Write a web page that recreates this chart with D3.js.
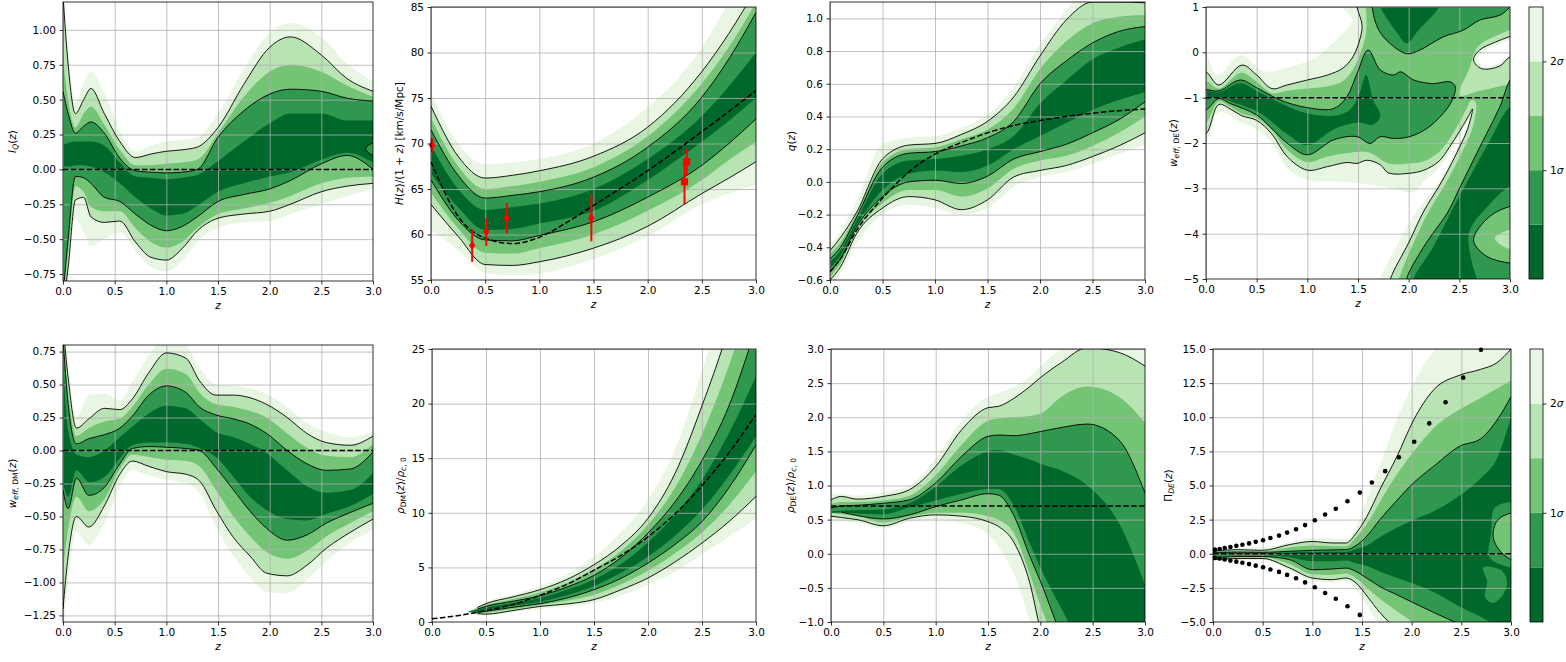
<!DOCTYPE html>
<html>
<head>
<meta charset="utf-8">
<script src="https://cdn.jsdelivr.net/npm/d3@7"></script>
<style>
  body { margin: 0; background: #fff; }
  text { font-family: "DejaVu Sans", sans-serif; font-size: 10.5px; fill: #000; }
</style>
</head>
<body>
<svg id="fig" width="1566" height="662"></svg>
<script>
const svg = d3.select('#fig');
// lightest (outer) to darkest (inner) confidence levels
const greens = ['#e8f6e3', '#b8e3b2', '#74c476', '#2f974e', '#00682a'];
const zTicks = [0, 0.5, 1, 1.5, 2, 2.5, 3];

// ---------- I_Q(z)
const iqZ = [0, 0.05, 0.12, 0.2, 0.27, 0.4, 0.55, 0.7, 0.85, 1.0, 1.15, 1.3, 1.5, 1.75, 2.0, 2.2, 2.5, 2.75, 3.0];
const iqHi = [
  [1.3, 0.85, 0.48, 0.62, 0.70, 0.55, 0.28, 0.13, 0.17, 0.20, 0.21, 0.23, 0.40, 0.72, 0.98, 1.05, 0.95, 0.76, 0.63],
  [1.25, 0.75, 0.40, 0.50, 0.58, 0.40, 0.20, 0.085, 0.11, 0.13, 0.14, 0.16, 0.30, 0.61, 0.875, 0.95, 0.82, 0.65, 0.56],
  [0.8, 0.5, 0.30, 0.40, 0.45, 0.32, 0.14, 0.03, 0.03, 0.04, 0.05, 0.07, 0.26, 0.52, 0.70, 0.75, 0.70, 0.60, 0.52],
  [0.56, 0.40, 0.26, 0.31, 0.34, 0.26, 0.08, -0.01, -0.02, -0.025, -0.02, 0.0, 0.23, 0.42, 0.54, 0.575, 0.56, 0.51, 0.49],
  [0.18, 0.19, 0.20, 0.20, 0.20, 0.17, 0.05, -0.05, -0.06, -0.07, -0.06, -0.04, 0.06, 0.20, 0.33, 0.40, 0.40, 0.35, 0.35]
];
const iqLo = [
  [-1.1, -0.8, -0.35, -0.45, -0.55, -0.50, -0.45, -0.58, -0.70, -0.73, -0.66, -0.52, -0.42, -0.38, -0.37, -0.32, -0.25, -0.19, -0.14],
  [-1.0, -0.7, -0.22, -0.20, -0.34, -0.38, -0.37, -0.52, -0.63, -0.65, -0.57, -0.44, -0.35, -0.32, -0.30, -0.25, -0.16, -0.12, -0.10],
  [-0.95, -0.6, -0.12, -0.16, -0.27, -0.30, -0.30, -0.42, -0.52, -0.56, -0.52, -0.42, -0.32, -0.28, -0.24, -0.19, -0.10, -0.06, -0.05],
  [-0.9, -0.5, -0.05, -0.06, -0.10, -0.20, -0.23, -0.32, -0.40, -0.44, -0.41, -0.34, -0.23, -0.18, -0.14, -0.08, 0.04, 0.10, 0.0],
  [0.02, 0.02, 0.03, 0.03, 0.02, -0.02, -0.10, -0.20, -0.28, -0.33, -0.32, -0.26, -0.16, -0.10, -0.05, -0.02, 0.07, 0.12, 0.05]
];
const iqRefZ = [0, 3];
const iqRefV = [0, 0];
const iqTicks = [-0.75, -0.5, -0.25, 0, 0.25, 0.5, 0.75, 1.0];
const iqIsland = [[3.1, 0.1], [3.0, 0.1], [2.93, 0.15], [3.0, 0.19], [3.1, 0.19]];

// ---------- H(z)/(1+z)
const hzZ = [0, 0.25, 0.5, 0.75, 1.0, 1.5, 2.0, 2.5, 2.75, 3.0];
const hzHi = [
  [75.5, 70.0, 67.7, 67.9, 68.3, 70.0, 74.0, 80.5, 85.5, 90],
  [74.1, 68.6, 66.2, 66.5, 67.0, 68.6, 71.8, 77.9, 82.1, 87],
  [72.8, 67.5, 65.0, 65.3, 65.8, 67.4, 70.8, 76.6, 80.6, 85.5],
  [71.5, 66.5, 64.0, 64.3, 64.7, 66.3, 69.6, 75.1, 79.3, 84.4],
  [69.8, 65.0, 62.7, 63.0, 63.4, 65.0, 68.3, 73.0, 76.3, 80.0]
];
const hzLo = [
  [60.5, 58.3, 55.8, 55.5, 55.7, 57.3, 59.8, 63.3, 64.5, 65.5],
  [63.3, 59.8, 56.7, 56.6, 57.0, 58.5, 60.9, 64.5, 66.2, 68.0],
  [64.6, 60.7, 58.0, 57.9, 58.5, 60.0, 62.6, 66.0, 68.2, 70.2],
  [66.0, 61.6, 59.4, 59.3, 59.9, 61.4, 64.1, 67.6, 70.0, 72.7],
  [66.7, 63.0, 60.5, 60.6, 61.2, 62.6, 66.0, 70.2, 72.5, 75.0]
];
const hzRefZ = [0, 0.25, 0.5, 0.75, 1.0, 1.25, 1.5, 2.0, 2.5, 3.0];
const hzRefV = [68.0, 62.0, 59.6, 59.0, 59.7, 61.3, 63.2, 67.0, 71.3, 75.8];
const hzTicks = [55, 60, 65, 70, 75, 80, 85];
const hzDiaZ = [0.01, 0.38, 0.51, 0.70, 1.48];
const hzDiaV = [69.8, 58.8, 60.3, 61.8, 61.8];
const hzDiaErr = [0.8, 1.8, 1.55, 1.65, 2.55];
const hzSqZ = [2.34, 2.36];
const hzSqV = [65.8, 68.0];
const hzSqErr = [2.5, 1.5];

// ---------- q(z)
const qZ = [0, 0.1, 0.25, 0.5, 0.75, 1.0, 1.25, 1.5, 1.75, 2.0, 2.25, 2.5, 2.75, 3.0];
const qHi = [
  [-0.38, -0.30, -0.12, 0.23, 0.27, 0.28, 0.33, 0.41, 0.58, 0.84, 1.05, 1.2, 1.2, 1.2],
  [-0.42, -0.34, -0.19, 0.14, 0.225, 0.235, 0.29, 0.37, 0.52, 0.77, 0.99, 1.1, 1.1, 1.095],
  [-0.44, -0.37, -0.20, 0.12, 0.20, 0.21, 0.26, 0.32, 0.45, 0.69, 0.86, 0.97, 1.01, 1.02],
  [-0.47, -0.40, -0.22, 0.09, 0.175, 0.185, 0.22, 0.27, 0.37, 0.60, 0.74, 0.85, 0.92, 0.95],
  [-0.49, -0.42, -0.24, 0.05, 0.13, 0.14, 0.16, 0.20, 0.28, 0.48, 0.62, 0.75, 0.82, 0.87]
];
const qLo = [
  [-0.65, -0.56, -0.38, -0.20, -0.14, -0.16, -0.20, -0.16, -0.03, 0.03, 0.06, 0.11, 0.17, 0.23],
  [-0.60, -0.52, -0.32, -0.16, -0.09, -0.11, -0.17, -0.11, 0.03, 0.07, 0.10, 0.155, 0.22, 0.30],
  [-0.58, -0.50, -0.30, -0.13, -0.05, -0.05, -0.09, -0.04, 0.08, 0.13, 0.16, 0.22, 0.30, 0.40],
  [-0.55, -0.47, -0.28, -0.09, 0.0, 0.01, -0.01, 0.035, 0.14, 0.185, 0.23, 0.30, 0.38, 0.49],
  [-0.53, -0.45, -0.27, -0.05, 0.05, 0.07, 0.06, 0.10, 0.20, 0.28, 0.36, 0.44, 0.50, 0.55]
];
const qRefV = [-0.55, -0.47, -0.30, -0.10, 0.06, 0.17, 0.24, 0.30, 0.345, 0.375, 0.40, 0.42, 0.435, 0.445];
const qTicks = [-0.6, -0.4, -0.2, 0, 0.2, 0.4, 0.6, 0.8, 1.0];

// ---------- w_eff,DE(z): irregular contour regions, [z, w] outlines
const wdeOuter = [[-0.1, -0.05], [0, -0.06], [0.11, -0.5], [0.35, -0.06], [0.57, -0.42], [0.83, -0.32], [1.06, -0.14], [1.2, 0.1], [1.3, 0.3], [1.4, 0.55], [1.45, 0.7], [1.38, 0.9], [1.25, 1.3], [3.2, 1.3], [3.2, -5.3], [1.7, -5.3], [1.72, -5.0], [1.9, -4.2], [2.05, -3.6], [2.15, -3.3], [2.3, -2.85], [2.4, -2.45], [2.5, -2.02], [2.58, -1.62], [2.66, -1.15], [2.58, -1.52], [2.5, -1.85], [2.4, -2.22], [2.3, -2.55], [2.15, -2.85], [2.05, -3.08], [1.8, -2.98], [1.5, -2.88], [1.2, -2.85], [1.0, -2.82], [0.8, -2.55], [0.65, -2.0], [0.5, -1.7], [0.35, -1.55], [0.125, -1.32], [0, -1.98], [-0.1, -2.0]];
const wde2sUpper = [[1.48, 1.3], [1.49, 1.0], [1.54, 0.6], [1.52, 0.3], [1.45, -0.1], [1.35, -0.35], [1.2, -0.5], [1.0, -0.61], [0.8, -0.72], [0.65, -0.8], [0.5, -0.5], [0.355, -0.28], [0.125, -0.72], [0, -0.43], [-0.1, -0.4]];
const wde2sLower = [[-0.1, -1.85], [0, -1.8], [0.125, -1.15], [0.24, -1.25], [0.355, -1.4], [0.5, -1.5], [0.65, -1.8], [0.8, -2.3], [1.0, -2.6], [1.2, -2.52], [1.39, -2.43], [1.49, -2.45], [1.59, -2.38], [1.72, -2.48], [1.8, -2.66], [2.0, -2.67], [2.15, -2.6], [2.3, -2.4], [2.4, -2.1], [2.5, -1.75], [2.58, -1.45], [2.63, -1.25], [2.58, -1.7], [2.5, -2.1], [2.4, -2.55], [2.3, -2.95], [2.15, -3.5], [2.0, -4.2], [1.82, -5.0], [1.8, -5.3]];
const wdeMid = [[1.56, 1.3], [1.58, 0.9], [1.58, 0.45], [1.55, 0.15], [1.47, -0.3], [1.36, -0.62], [1.2, -0.75], [1.0, -0.8], [0.8, -0.85], [0.65, -0.9], [0.5, -0.65], [0.35, -0.45], [0.125, -0.8], [0, -0.62], [-0.1, -0.62], [-0.1, -1.55], [0, -1.55], [0.125, -1.08], [0.24, -1.2], [0.355, -1.35], [0.5, -1.45], [0.65, -1.72], [0.8, -2.15], [1.0, -2.42], [1.2, -2.3], [1.4, -2.22], [1.6, -2.2], [1.8, -2.45], [2.0, -2.45], [2.15, -2.4], [2.3, -2.2], [2.4, -1.92], [2.5, -1.55], [2.58, -1.2], [2.62, -1.05], [2.66, -1.1], [2.64, -1.6], [2.56, -2.05], [2.46, -2.5], [2.35, -2.95], [2.2, -3.5], [2.05, -4.2], [1.92, -4.9], [1.88, -5.3], [3.2, -5.3], [3.2, 1.3]];
const wdeHoleRing = [[2.5, -0.95], [2.6, -0.35], [2.68, 0.12], [2.85, 0.35], [3.1, 0.5], [3.1, -0.6], [2.9, -0.75], [2.7, -0.85]];
const wdeHole2s = [[2.64, -0.17], [2.7, 0.05], [2.85, 0.22], [3.0, 0.35], [3.1, 0.42], [3.1, -0.1], [3.0, -0.1], [2.9, -0.3], [2.72, -0.36]];
const wdeHoleIn = [[2.68, -0.15], [2.74, 0.02], [2.87, 0.16], [3.0, 0.28], [3.1, 0.33], [3.1, -0.05], [2.95, -0.1], [2.88, -0.25], [2.74, -0.3]];
const wde1sBand = [[0, -0.82], [0.125, -0.85], [0.34, -0.61], [0.5, -0.78], [0.73, -1.05], [1.0, -1.22], [1.26, -1.24], [1.39, -0.98], [1.49, -0.47], [1.6, 0.05], [1.72, -0.39], [1.85, -0.5], [1.92, -0.43], [2.05, -0.61], [2.24, -0.69], [2.41, -0.65], [2.46, -0.76], [2.43, -1.05], [2.34, -1.35], [2.18, -1.68], [2.01, -1.86], [1.85, -1.9], [1.72, -1.86], [1.62, -2.01], [1.49, -1.86], [1.26, -1.93], [1.0, -2.26], [0.8, -2.0], [0.63, -1.64], [0.5, -1.38], [0.24, -1.13], [0.125, -1.02], [0, -1.27], [-0.1, -1.27], [-0.1, -0.82]];
const wde1sTop = [[1.64, 1.3], [1.64, 1.0], [1.69, 0.56], [1.78, 0.27], [1.98, -0.03], [2.11, 0.05], [2.34, 0.34], [2.54, 0.49], [2.7, 0.71], [2.9, 0.82], [3.0, 1.0], [3.1, 1.3]];
const wde1sWedge = [[1.98, -5.3], [1.98, -5.0], [2.11, -4.43], [2.24, -3.99], [2.38, -3.55], [2.51, -2.96], [2.64, -2.37], [2.77, -1.79], [2.9, -1.2], [3.0, -0.61], [3.1, -0.35], [3.2, -5.3]];
const wdeCoreBand = [[0, -0.84], [0.125, -0.88], [0.34, -0.68], [0.5, -0.85], [0.73, -1.12], [1.0, -1.35], [1.26, -1.4], [1.4, -1.3], [1.5, -1.0], [1.58, -0.5], [1.65, -1.05], [1.72, -1.4], [1.65, -1.6], [1.5, -1.55], [1.26, -1.7], [1.0, -2.05], [0.8, -1.8], [0.63, -1.5], [0.5, -1.3], [0.24, -1.08], [0.125, -0.98], [0, -1.05], [-0.1, -1.05], [-0.1, -0.84]];
const wdeCoreTop = [[1.7, 1.2], [1.72, 1.0], [1.88, 0.45], [1.98, 0.2], [2.1, 0.5], [2.3, 1.0], [2.32, 1.2]];
const wdeCoreWedge = [[2.05, -5.3], [2.05, -5.0], [2.24, -4.3], [2.47, -3.3], [2.64, -2.6], [2.8, -1.95], [3.0, -1.2], [3.2, -1.0], [3.2, -2.9], [3.0, -2.96], [2.8, -3.35], [2.6, -3.95], [2.62, -4.6], [2.67, -5.0], [2.67, -5.3]];
const wdeIsland = [[3.1, -3.38], [3.0, -3.4], [2.8, -3.62], [2.64, -4.14], [2.77, -4.5], [3.0, -4.65], [3.1, -4.66]];
const wdeIslandCore = [[3.1, -3.9], [2.95, -3.95], [2.85, -4.1], [2.95, -4.3], [3.1, -4.35]];
const wdeRefZ = [0, 3];
const wdeRefV = [-1, -1];
const wdeTicks = [-5, -4, -3, -2, -1, 0, 1];

// ---------- w_eff,DM(z)
const wdmZ = [0, 0.05, 0.13, 0.25, 0.4, 0.55, 0.67, 0.83, 1.0, 1.19, 1.32, 1.48, 1.65, 1.81, 1.97, 2.17, 2.36, 2.55, 2.78, 3.0];
const wdmHi = [
  [1.0, 0.65, 0.25, 0.42, 0.43, 0.38, 0.52, 0.72, 0.86, 0.80, 0.63, 0.50, 0.49, 0.47, 0.43, 0.33, 0.21, 0.14, 0.10, 0.15],
  [0.95, 0.55, 0.17, 0.24, 0.32, 0.31, 0.39, 0.59, 0.74, 0.70, 0.53, 0.42, 0.42, 0.40, 0.35, 0.25, 0.13, 0.06, 0.04, 0.11],
  [0.9, 0.45, 0.11, 0.17, 0.22, 0.24, 0.33, 0.50, 0.62, 0.58, 0.44, 0.35, 0.33, 0.30, 0.25, 0.13, 0.02, -0.04, -0.05, 0.05],
  [0.85, 0.35, 0.05, 0.09, 0.12, 0.17, 0.26, 0.42, 0.49, 0.44, 0.33, 0.27, 0.24, 0.20, 0.13, 0.0, -0.10, -0.15, -0.14, -0.01],
  [0.7, 0.15, -0.03, -0.05, 0.0, 0.10, 0.18, 0.28, 0.34, 0.32, 0.24, 0.14, 0.10, 0.05, -0.02, -0.15, -0.27, -0.32, -0.30, -0.17]
];
const wdmLo = [
  [-1.4, -1.0, -0.62, -0.72, -0.55, -0.28, -0.15, -0.19, -0.22, -0.25, -0.32, -0.58, -0.80, -0.96, -1.07, -1.08, -0.98, -0.84, -0.70, -0.60],
  [-1.2, -0.8, -0.50, -0.58, -0.42, -0.18, -0.08, -0.12, -0.16, -0.18, -0.23, -0.45, -0.66, -0.80, -0.93, -0.95, -0.87, -0.74, -0.62, -0.52],
  [-0.9, -0.6, -0.35, -0.46, -0.37, -0.14, -0.03, -0.05, -0.07, -0.08, -0.12, -0.30, -0.50, -0.65, -0.77, -0.82, -0.76, -0.65, -0.55, -0.46],
  [-0.3, -0.44, -0.21, -0.34, -0.28, -0.10, 0.015, 0.03, 0.025, 0.015, 0.0, -0.13, -0.30, -0.46, -0.59, -0.68, -0.64, -0.55, -0.47, -0.40],
  [-0.25, -0.35, -0.15, -0.24, -0.20, -0.06, 0.04, 0.06, 0.06, 0.05, 0.02, -0.05, -0.20, -0.35, -0.45, -0.52, -0.53, -0.48, -0.42, -0.33]
];
const wdmRefZ = [0, 3];
const wdmRefV = [0, 0];
const wdmTicks = [-1.25, -1.0, -0.75, -0.5, -0.25, 0, 0.25, 0.5, 0.75];

// ---------- rho_DM(z)/rho_c0
const rdmZ = [0.34, 0.42, 0.5, 0.75, 1.0, 1.25, 1.5, 1.75, 2.0, 2.25, 2.5, 2.75, 3.0];
const rdmHi = [
  [1.0, 1.45, 1.85, 2.55, 3.3, 4.4, 6.0, 8.2, 11.2, 15.8, 23.0, 31, 40],
  [0.98, 1.33, 1.68, 2.3, 2.96, 3.9, 5.25, 7.0, 9.5, 13.6, 19.8, 27, 36],
  [0.97, 1.25, 1.55, 2.1, 2.7, 3.6, 4.8, 6.5, 8.9, 12.3, 17.2, 23.5, 31],
  [0.96, 1.18, 1.43, 1.9, 2.4, 3.2, 4.27, 5.9, 8.15, 11.0, 14.8, 19.8, 27],
  [0.95, 1.1, 1.3, 1.75, 2.2, 2.95, 3.9, 5.3, 7.3, 9.8, 13.0, 17.3, 22.5]
];
const rdmLo = [
  [0.85, 0.68, 0.6, 0.9, 1.2, 1.4, 1.7, 2.4, 3.4, 4.6, 6.2, 7.8, 9.5],
  [0.87, 0.76, 0.72, 1.05, 1.43, 1.65, 2.05, 2.95, 4.03, 5.5, 7.23, 9.2, 11.5],
  [0.89, 0.82, 0.85, 1.2, 1.55, 1.95, 2.5, 3.45, 4.7, 6.3, 8.2, 10.7, 13.8],
  [0.91, 0.88, 0.98, 1.35, 1.68, 2.2, 2.96, 4.0, 5.4, 7.1, 9.2, 12.3, 16.2],
  [0.93, 0.95, 1.1, 1.5, 1.85, 2.45, 3.3, 4.5, 6.0, 7.9, 10.3, 13.4, 17.0]
];
const rdmRefZ = [0, 0.25, 0.5, 0.75, 1.0, 1.25, 1.5, 1.75, 2.0, 2.25, 2.5, 2.75, 3.0];
const rdmRefV = [0.3, 0.6, 1.05, 1.6, 2.45, 3.45, 4.75, 6.1, 7.8, 9.9, 12.5, 15.5, 19.0];
const rdmTicks = [0, 5, 10, 15, 20, 25];

// ---------- rho_DE(z)/rho_c0
const rdeZ = [0, 0.1, 0.25, 0.5, 0.75, 1.0, 1.25, 1.5, 1.6, 1.75, 1.9, 2.0, 2.2, 2.45, 2.75, 3.0];
const rdeHi = [
  [0.86, 0.88, 0.85, 0.90, 1.0, 1.4, 1.95, 2.3, 2.35, 2.45, 2.6, 2.75, 3.0, 3.3, 3.3, 3.3],
  [0.79, 0.84, 0.80, 0.84, 0.94, 1.28, 1.82, 2.14, 2.16, 2.28, 2.45, 2.58, 2.8, 3.02, 2.95, 2.75],
  [0.73, 0.76, 0.76, 0.78, 0.85, 1.15, 1.6, 1.95, 1.98, 2.0, 2.02, 2.05, 2.3, 2.45, 2.3, 1.92],
  [0.67, 0.70, 0.71, 0.74, 0.79, 1.04, 1.43, 1.72, 1.74, 1.73, 1.76, 1.79, 1.85, 1.9, 1.67, 0.89],
  [0.62, 0.63, 0.64, 0.65, 0.74, 0.98, 1.3, 1.5, 1.52, 1.45, 1.38, 1.32, 1.22, 1.0, 0.45, -0.45]
];
const rdeLo = [
  [0.5, 0.48, 0.45, 0.37, 0.47, 0.5, 0.45, 0.28, 0.1, -0.3, -1.0, -1.5, -2, -2, -2, -2],
  [0.55, 0.53, 0.50, 0.41, 0.52, 0.57, 0.55, 0.47, 0.4, 0.16, -0.43, -1.1, -1.7, -2, -2, -2],
  [0.6, 0.58, 0.55, 0.46, 0.54, 0.60, 0.60, 0.55, 0.5, 0.3, -0.3, -0.75, -1.5, -2, -2, -2],
  [0.6, 0.61, 0.56, 0.51, 0.57, 0.69, 0.79, 0.88, 0.86, 0.55, -0.04, -0.4, -1.2, -2, -2, -2],
  [0.6, 0.60, 0.59, 0.58, 0.68, 0.78, 0.88, 0.95, 0.95, 0.7, 0.15, -0.2, -0.8, -1.5, -2, -2]
];
const rdeRefZ = [0, 3];
const rdeRefV = [0.7, 0.7];
const rdeTicks = [-1, -0.5, 0, 0.5, 1, 1.5, 2, 2.5, 3];

// ---------- Pi_DE(z)
const pdeZ = [0, 0.25, 0.5, 0.77, 1.0, 1.2, 1.34, 1.44, 1.55, 1.68, 1.85, 2.02, 2.22, 2.49, 2.69, 2.86, 3.0];
const pdeHi = [
  [0.4, 0.45, 0.45, 0.85, 1.15, 1.1, 1.1, 2.0, 4.0, 6.5, 9.8, 12.5, 14.8, 16, 16, 16, 16],
  [0.2, 0.3, 0.25, 0.67, 0.9, 0.79, 0.79, 1.5, 2.74, 4.7, 7.1, 9.8, 12.0, 13.1, 13.5, 14.0, 15.0],
  [0.15, 0.22, 0.18, 0.45, 0.6, 0.55, 0.55, 1.2, 2.2, 3.8, 5.8, 7.5, 9.2, 10.6, 11.4, 12.1, 12.7],
  [0.1, 0.12, 0.1, 0.18, 0.25, 0.28, 0.3, 0.6, 1.3, 2.5, 3.9, 5.2, 6.4, 7.9, 8.4, 9.8, 11.5],
  [0.05, 0.05, 0.05, 0.1, 0.12, 0.14, 0.15, 0.35, 0.6, 1.2, 1.9, 2.5, 3.1, 4.3, 5.5, 7.0, 10.0]
];
const pdeLo = [
  [-0.55, -0.5, -0.45, -1.25, -2.0, -2.1, -2.0, -2.6, -3.8, -5.2, -6, -6, -6, -6, -6, -6, -6],
  [-0.43, -0.35, -0.35, -1.04, -1.78, -1.9, -1.78, -2.14, -3.1, -4.3, -5.5, -6, -6, -6, -6, -6, -6],
  [-0.38, -0.28, -0.28, -0.75, -1.5, -1.55, -1.45, -1.8, -2.5, -3.3, -4.2, -5.05, -6, -6, -6, -6, -6],
  [-0.3, -0.2, -0.2, -0.43, -1.17, -1.12, -1.05, -1.3, -1.8, -2.4, -3.0, -3.6, -4.3, -5.2, -6, -6, -6],
  [-0.1, -0.1, -0.1, -0.25, -0.55, -0.55, -0.5, -0.7, -0.9, -1.3, -1.75, -2.2, -2.8, -3.9, -4.6, -5.3, -6]
];
const pdeRefZ = [0, 3];
const pdeRefV = [0, 0];
const pdeTicks = [-5, -2.5, 0, 2.5, 5, 7.5, 10, 12.5, 15];
const pdeHalo = [[2.78, -0.2], [2.8, 1.5], [2.84, 3.4], [3.1, 3.6], [3.1, -0.9], [2.9, -0.8]];
const pdeIsland = [[3.05, -0.45], [2.95, -0.2], [2.86, 0.5], [2.82, 1.28], [2.85, 2.3], [2.93, 2.8], [3.05, 2.9]];
const pdeLowPatch = [[2.72, -1.0], [2.76, -2.0], [2.74, -3.2], [2.82, -3.6], [2.92, -3.0], [2.96, -2.0], [2.9, -1.2]];
const pdeDotZ = [0.02, 0.067, 0.118, 0.175, 0.235, 0.296, 0.363, 0.43, 0.504, 0.578, 0.665, 0.746, 0.836, 0.927, 1.025, 1.129, 1.236, 1.354, 1.478, 1.599, 1.733, 1.871, 2.026, 2.177, 2.341, 2.519, 2.697];
const pdeDotUp = [0.3, 0.35, 0.42, 0.5, 0.58, 0.66, 0.76, 0.87, 0.99, 1.15, 1.33, 1.55, 1.8, 2.1, 2.45, 2.87, 3.3, 3.85, 4.48, 5.22, 6.05, 7.07, 8.2, 9.55, 11.1, 12.9, 14.95];
const pdeDotDown = [-0.3, -0.35, -0.42, -0.5, -0.58, -0.66, -0.76, -0.87, -0.99, -1.15, -1.33, -1.55, -1.8, -2.1, -2.45, -2.87, -3.3, -3.85, -4.48];

// ---------- panel setup
const panels = [
  { id: 'iq', box: [63, 373, 2, 281], yDom: [-0.8, 1.2], yTicks: iqTicks, yFmt: '.2f', labelX: 12,
    label: [['I', 'i'], ['Q', 'si'], ['(', ''], ['z', 'i'], [')', '']],
    z: iqZ, hi: iqHi, lo: iqLo, refZ: iqRefZ, refV: iqRefV,
    patches: [{ lv: 3, pts: iqIsland, edge: true }] },
  { id: 'hz', box: [431, 756, 7, 280], yDom: [55, 85], yTicks: hzTicks, yFmt: 'd', labelX: 399,
    label: [['H', 'i'], ['(', ''], ['z', 'i'], [')/(1 + ', ''], ['z', 'i'], [') [km/s/Mpc]', '']],
    z: hzZ, hi: hzHi, lo: hzLo, refZ: hzRefZ, refV: hzRefV, hzData: true },
  { id: 'q', box: [830, 1145, 2, 280], yDom: [-0.6, 1.1], yTicks: qTicks, yFmt: '.1f', labelX: 791,
    label: [['q', 'i'], ['(', ''], ['z', 'i'], [')', '']],
    z: qZ, hi: qHi, lo: qLo, refZ: qZ, refV: qRefV },
  { id: 'wde', box: [1206, 1510, 7, 279], yDom: [-5, 1], yTicks: wdeTicks, yFmt: 'd', labelX: 1173,
    label: [['w', 'i'], ['eff,', 'si'], [' DE', 's'], ['(', ''], ['z', 'i'], [')', '']],
    refZ: wdeRefZ, refV: wdeRefV, cbar: [1529, 1543],
    patches: [
      { lv: 0, pts: wdeOuter },
      { lv: 1, pts: wde2sUpper.concat(wde2sLower, [[3.2, -5.3], [3.2, 1.3]]), edge: true },
      { lv: 2, pts: wdeMid },
      { lv: 1, pts: wdeHoleRing },
      { lv: 0, pts: wdeHole2s, edge: true },
      { lv: -1, pts: wdeHoleIn },
      { lv: 3, pts: wde1sBand, edge: true },
      { lv: 3, pts: wde1sTop, edge: true },
      { lv: 3, pts: wde1sWedge, edge: true },
      { lv: 4, pts: wdeCoreBand },
      { lv: 4, pts: wdeCoreTop },
      { lv: 4, pts: wdeCoreWedge },
      { lv: 2, pts: wdeIsland, edge: true },
      { lv: 1, pts: wdeIslandCore }
    ] },
  { id: 'wdm', box: [63, 373, 345, 622], yDom: [-1.3, 0.8], yTicks: wdmTicks, yFmt: '.2f', labelX: 12,
    label: [['w', 'i'], ['eff,', 'si'], [' DM', 's'], ['(', ''], ['z', 'i'], [')', '']],
    z: wdmZ, hi: wdmHi, lo: wdmLo, refZ: wdmRefZ, refV: wdmRefV },
  { id: 'rdm', box: [432, 756, 349, 622], yDom: [0, 25], yTicks: rdmTicks, yFmt: 'd', labelX: 400,
    label: [['ρ', 'i'], ['DM', 's'], ['(', ''], ['z', 'i'], [')/', ''], ['ρ', 'i'], ['c', 'si'], [', 0', 's']],
    z: rdmZ, hi: rdmHi, lo: rdmLo, refZ: rdmRefZ, refV: rdmRefV, cStart: [1, 1, 1, 1] },
  { id: 'rde', box: [831, 1145, 349, 622], yDom: [-1, 3], yTicks: rdeTicks, yFmt: '.1f', labelX: 790,
    label: [['ρ', 'i'], ['DE', 's'], ['(', ''], ['z', 'i'], [')/', ''], ['ρ', 'i'], ['c', 'si'], [', 0', 's']],
    z: rdeZ, hi: rdeHi, lo: rdeLo, refZ: rdeRefZ, refV: rdeRefV, cStart: [0, 0, 1, 0] },
  { id: 'pde', box: [1213, 1511, 349, 622], yDom: [-5, 15], yTicks: pdeTicks, yFmt: '.1f', labelX: 1168,
    label: [['Π', ''], ['DE', 'si'], ['(', ''], ['z', 'i'], [')', '']],
    z: pdeZ, hi: pdeHi, lo: pdeLo, refZ: pdeRefZ, refV: pdeRefV, cbar: [1530, 1543], dots: true,
    patches: [
      { lv: 3, pts: pdeHalo },
      { lv: 2, pts: pdeIsland, edge: true },
      { lv: 3, pts: pdeLowPatch }
    ] }
];

function mathText(t, segs) {
  let sub = false;
  segs.forEach(([s, st]) => {
    const isSub = st.includes('s');
    const ts = t.append('tspan').text(s);
    if (st.includes('i')) ts.attr('font-style', 'italic');
    if (isSub !== sub) { ts.attr('dy', isSub ? 2.6 : -2.6); sub = isSub; }
    if (isSub) ts.attr('font-size', 7.6);
  });
}

function styleAxis(g) {
  g.select('.domain').remove();
  g.attr('font-size', null).attr('font-family', null);
  g.selectAll('line').attr('stroke', '#000').attr('stroke-width', 0.8);
}

function drawPanel(p) {
  const [x0, x1, y0, y1] = p.box;
  const x = d3.scaleLinear().domain([0, 3]).range([x0, x1]);
  const y = d3.scaleLinear().domain(p.yDom).range([y1, y0]);
  const clipId = 'clip-' + p.id;
  svg.append('clipPath').attr('id', clipId).append('rect')
    .attr('x', x0).attr('y', y0).attr('width', x1 - x0).attr('height', y1 - y0);
  const plot = svg.append('g').attr('clip-path', `url(#${clipId})`);
  const shapeLine = d3.line().x(d => x(d[0])).y(d => y(d[1])).curve(d3.curveCatmullRomClosed.alpha(0.5));

  // filled confidence bands, outer to inner
  if (p.z) {
    p.hi.forEach((hi, i) => {
      const area = d3.area()
        .x((d, j) => x(p.z[j]))
        .y0((d, j) => y(p.lo[i][j]))
        .y1((d, j) => y(hi[j]))
        .curve(d3.curveMonotoneX);
      plot.append('path').attr('d', area(p.z)).attr('fill', greens[i]);
    });
  }
  (p.patches || []).forEach(s => {
    plot.append('path').attr('d', shapeLine(s.pts)).attr('fill', s.lv < 0 ? '#fff' : greens[s.lv]);
  });

  // grid
  const gx = plot.append('g').attr('transform', `translate(0,${y1})`)
    .call(d3.axisBottom(x).tickValues(zTicks).tickSize(-(y1 - y0)).tickFormat(''));
  const gy = plot.append('g').attr('transform', `translate(${x0},0)`)
    .call(d3.axisLeft(y).tickValues(p.yTicks).tickSize(-(x1 - x0)).tickFormat(''));
  [gx, gy].forEach(g => {
    g.select('.domain').remove();
    g.selectAll('line').attr('stroke', '#b0b0b0').attr('stroke-width', 0.8);
  });

  // 1 sigma / 2 sigma contour lines
  if (p.z) {
    const starts = p.cStart || [0, 0, 0, 0];
    [p.hi[1], p.hi[3], p.lo[3], p.lo[1]].forEach((arr, k) => {
      const s = starts[k];
      const line = d3.line().x((d, j) => x(p.z[j + s])).y(d => y(d)).curve(d3.curveMonotoneX);
      plot.append('path').attr('d', line(arr.slice(s)))
        .attr('fill', 'none').attr('stroke', '#000').attr('stroke-width', 0.9);
    });
  }
  (p.patches || []).filter(s => s.edge).forEach(s => {
    plot.append('path').attr('d', shapeLine(s.pts))
      .attr('fill', 'none').attr('stroke', '#000').attr('stroke-width', 0.9);
  });

  // reference (dashed) curve
  const refLine = d3.line().x((d, j) => x(p.refZ[j])).y(d => y(d)).curve(d3.curveMonotoneX);
  plot.append('path').attr('d', refLine(p.refV))
    .attr('fill', 'none').attr('stroke', '#000').attr('stroke-width', 1.5).attr('stroke-dasharray', '5.5,2.4');

  if (p.hzData) {
    const bars = svg.append('g');
    const diamond = { draw(ctx) { ctx.moveTo(0, -4.6); ctx.lineTo(3.3, 0); ctx.lineTo(0, 4.6); ctx.lineTo(-3.3, 0); ctx.closePath(); } };
    const allZ = hzDiaZ.concat(hzSqZ), allV = hzDiaV.concat(hzSqV), allE = hzDiaErr.concat(hzSqErr);
    allZ.forEach((z, i) => {
      bars.append('line').attr('x1', x(z)).attr('x2', x(z))
        .attr('y1', y(allV[i] - allE[i])).attr('y2', y(allV[i] + allE[i]))
        .attr('stroke', '#ff0000').attr('stroke-width', 2);
    });
    hzDiaZ.forEach((z, i) => {
      bars.append('path').attr('d', d3.symbol().type(diamond)())
        .attr('transform', `translate(${x(z)},${y(hzDiaV[i])})`).attr('fill', '#ff0000');
    });
    hzSqZ.forEach((z, i) => {
      bars.append('path').attr('d', d3.symbol().type(d3.symbolSquare).size(52)())
        .attr('transform', `translate(${x(z)},${y(hzSqV[i])})`).attr('fill', '#ff0000');
    });
  }

  if (p.dots) {
    const dots = svg.append('g');
    pdeDotZ.forEach((z, i) => dots.append('circle').attr('cx', x(z)).attr('cy', y(pdeDotUp[i])).attr('r', 2.3).attr('fill', '#000'));
    pdeDotDown.forEach((v, i) => dots.append('circle').attr('cx', x(pdeDotZ[i])).attr('cy', y(v)).attr('r', 2.3).attr('fill', '#000'));
  }

  // frame
  svg.append('rect').attr('x', x0).attr('y', y0).attr('width', x1 - x0).attr('height', y1 - y0)
    .attr('fill', 'none').attr('stroke', '#000').attr('stroke-width', 0.8);

  // axes
  svg.append('g').attr('transform', `translate(0,${y1})`)
    .call(d3.axisBottom(x).tickValues(zTicks).tickSize(3.5).tickPadding(3.5).tickFormat(d3.format('.1f')))
    .call(styleAxis);
  svg.append('g').attr('transform', `translate(${x0},0)`)
    .call(d3.axisLeft(y).tickValues(p.yTicks).tickSize(3.5).tickPadding(3.5).tickFormat(d3.format(p.yFmt)))
    .call(styleAxis);

  svg.append('text').attr('x', (x0 + x1) / 2).attr('y', y1 + 28).attr('text-anchor', 'middle')
    .attr('font-style', 'italic').text('z');
  const yl = svg.append('text').attr('text-anchor', 'middle')
    .attr('transform', `translate(${p.labelX},${(y0 + y1) / 2}) rotate(-90)`).attr('dy', '0.35em');
  mathText(yl, p.label);

  if (p.cbar) {
    const [c0, c1] = p.cbar;
    const cy = d3.scaleLinear().domain([0, 5]).range([y1, y0]);
    for (let i = 0; i < 5; i++) {
      svg.append('rect').attr('x', c0).attr('y', cy(i + 1)).attr('width', c1 - c0)
        .attr('height', cy(i) - cy(i + 1)).attr('fill', greens[4 - i]);
    }
    svg.append('rect').attr('x', c0).attr('y', y0).attr('width', c1 - c0).attr('height', y1 - y0)
      .attr('fill', 'none').attr('stroke', '#000').attr('stroke-width', 0.8);
    const ca = svg.append('g').attr('transform', `translate(${c1},0)`)
      .call(d3.axisRight(cy).tickValues([2, 4]).tickSize(3.5).tickPadding(3.5).tickFormat(''))
      .call(styleAxis);
    ca.selectAll('.tick text').each(function (d) {
      const t = d3.select(this);
      t.append('tspan').text(d / 2);
      t.append('tspan').attr('font-style', 'italic').text('σ');
    });
  }
}

panels.forEach(drawPanel);
</script>
</body>
</html>
